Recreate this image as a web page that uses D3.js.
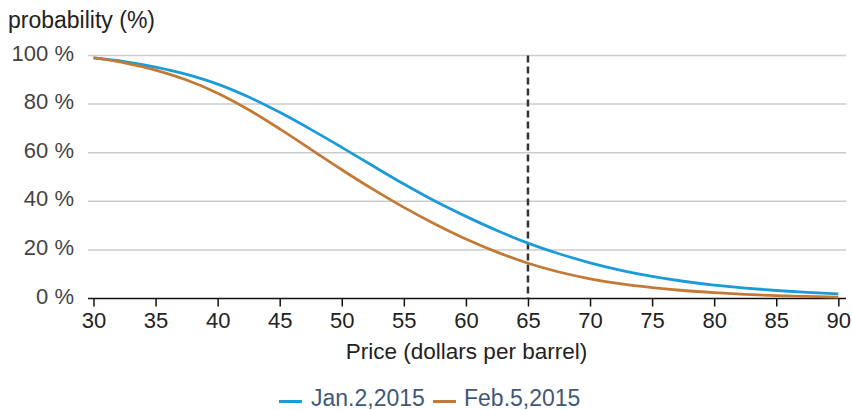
<!DOCTYPE html>
<html>
<head>
<meta charset="utf-8">
<script src="https://cdn.jsdelivr.net/npm/d3@7"></script>
<style>
  html, body { margin: 0; padding: 0; background: #fff; }
  svg { display: block; font-family: "Liberation Sans", Arial, sans-serif; }
</style>
</head>
<body>
<svg id="chart" width="852" height="410"></svg>
<script>
const prices = [30, 32.5, 35, 37.5, 40, 42.5, 45, 47.5, 50, 52.5, 55, 57.5, 60, 62.5, 65, 67.5, 70, 72.5, 75, 77.5, 80, 82.5, 85, 87.5, 90];
const jan2 = [99, 97.5, 95.2, 92.2, 88.2, 82.9, 76.6, 69.6, 62.2, 54.6, 47.1, 40.1, 33.8, 28.0, 22.8, 18.4, 14.7, 11.6, 9.1, 7.1, 5.5, 4.3, 3.3, 2.5, 1.9];
const feb5 = [99, 97.0, 94.0, 89.9, 84.5, 77.7, 69.8, 61.4, 53.0, 45.0, 37.5, 30.7, 24.5, 19.1, 14.5, 10.9, 8.1, 6.0, 4.5, 3.3, 2.4, 1.7, 1.2, 0.85, 0.6];
const xTicks = [30, 35, 40, 45, 50, 55, 60, 65, 70, 75, 80, 85, 90];
const yTicks = [0, 20, 40, 60, 80, 100];
const seriesNames = ["Jan.2,2015", "Feb.5,2015"];
const seriesColors = ["#1b9bd8", "#c47a37"];
const markerPrice = 65;

const svg = d3.select("#chart");
const x = d3.scaleLinear().domain([30, 90]).range([93.5, 838.3]);
const y = d3.scaleLinear().domain([0, 100]).range([298.5, 55.5]);
const gridX0 = 88, gridX1 = 846;

// gridlines
svg.append("g").selectAll("line").data(yTicks.filter(d => d > 0)).join("line")
  .attr("x1", gridX0).attr("x2", gridX1)
  .attr("y1", d => y(d)).attr("y2", d => y(d))
  .attr("stroke", "#cccccc").attr("stroke-width", 1.5);

// y labels
svg.append("g").selectAll("text").data(yTicks).join("text")
  .attr("x", 74).attr("y", d => y(d) + 5)
  .attr("text-anchor", "end")
  .attr("font-size", 22).attr("fill", "#444")
  .text(d => d + " %");

// title
svg.append("text").attr("x", 8).attr("y", 28)
  .attr("font-size", 23).attr("fill", "#222").text("probability (%)");

// x axis
const xAxis = d3.axisBottom(x).tickValues(xTicks).tickSize(8).tickSizeOuter(0).tickFormat(d3.format("d"));
const gx = svg.append("g").attr("transform", `translate(0,${y(0)})`).call(xAxis);
gx.select(".domain").remove();
gx.selectAll(".tick line").attr("stroke", "#111").attr("stroke-width", 1.5);
gx.selectAll(".tick text").attr("font-size", 22).attr("fill", "#222")
  .attr("font-family", "Liberation Sans, Arial, sans-serif").attr("dy", null).attr("y", 29.5);
svg.append("line").attr("x1", gridX0).attr("x2", gridX1)
  .attr("y1", y(0)).attr("y2", y(0)).attr("stroke", "#111").attr("stroke-width", 1.5);

// x title
svg.append("text").attr("x", (346 + 587) / 2).attr("y", 359)
  .attr("text-anchor", "middle").attr("font-size", 22.5).attr("fill", "#222")
  .text("Price (dollars per barrel)");

// dashed marker
svg.append("line").attr("x1", x(markerPrice)).attr("x2", x(markerPrice))
  .attr("y1", y(100)).attr("y2", y(0))
  .attr("stroke", "#333").attr("stroke-width", 2.5).attr("stroke-dasharray", "7,4");

// lines
const line = d3.line().x(d => x(d[0])).y(d => y(d[1])).curve(d3.curveMonotoneX);
[jan2, feb5].forEach((vals, i) => {
  svg.append("path").datum(prices.map((p, j) => [p, vals[j]]))
    .attr("fill", "none").attr("stroke", seriesColors[i]).attr("stroke-width", 2.8)
    .attr("d", line);
});

// legend
const legendPos = [{sx: 279, tx: 311}, {sx: 433, tx: 464}];
seriesNames.forEach((name, i) => {
  svg.append("line").attr("x1", legendPos[i].sx).attr("x2", legendPos[i].sx + 23)
    .attr("y1", 401.5).attr("y2", 401.5)
    .attr("stroke", seriesColors[i]).attr("stroke-width", 3);
  svg.append("text").attr("x", legendPos[i].tx).attr("y", 406)
    .attr("font-size", 23).attr("fill", "#3f5877").text(name);
});
</script>
</body>
</html>
